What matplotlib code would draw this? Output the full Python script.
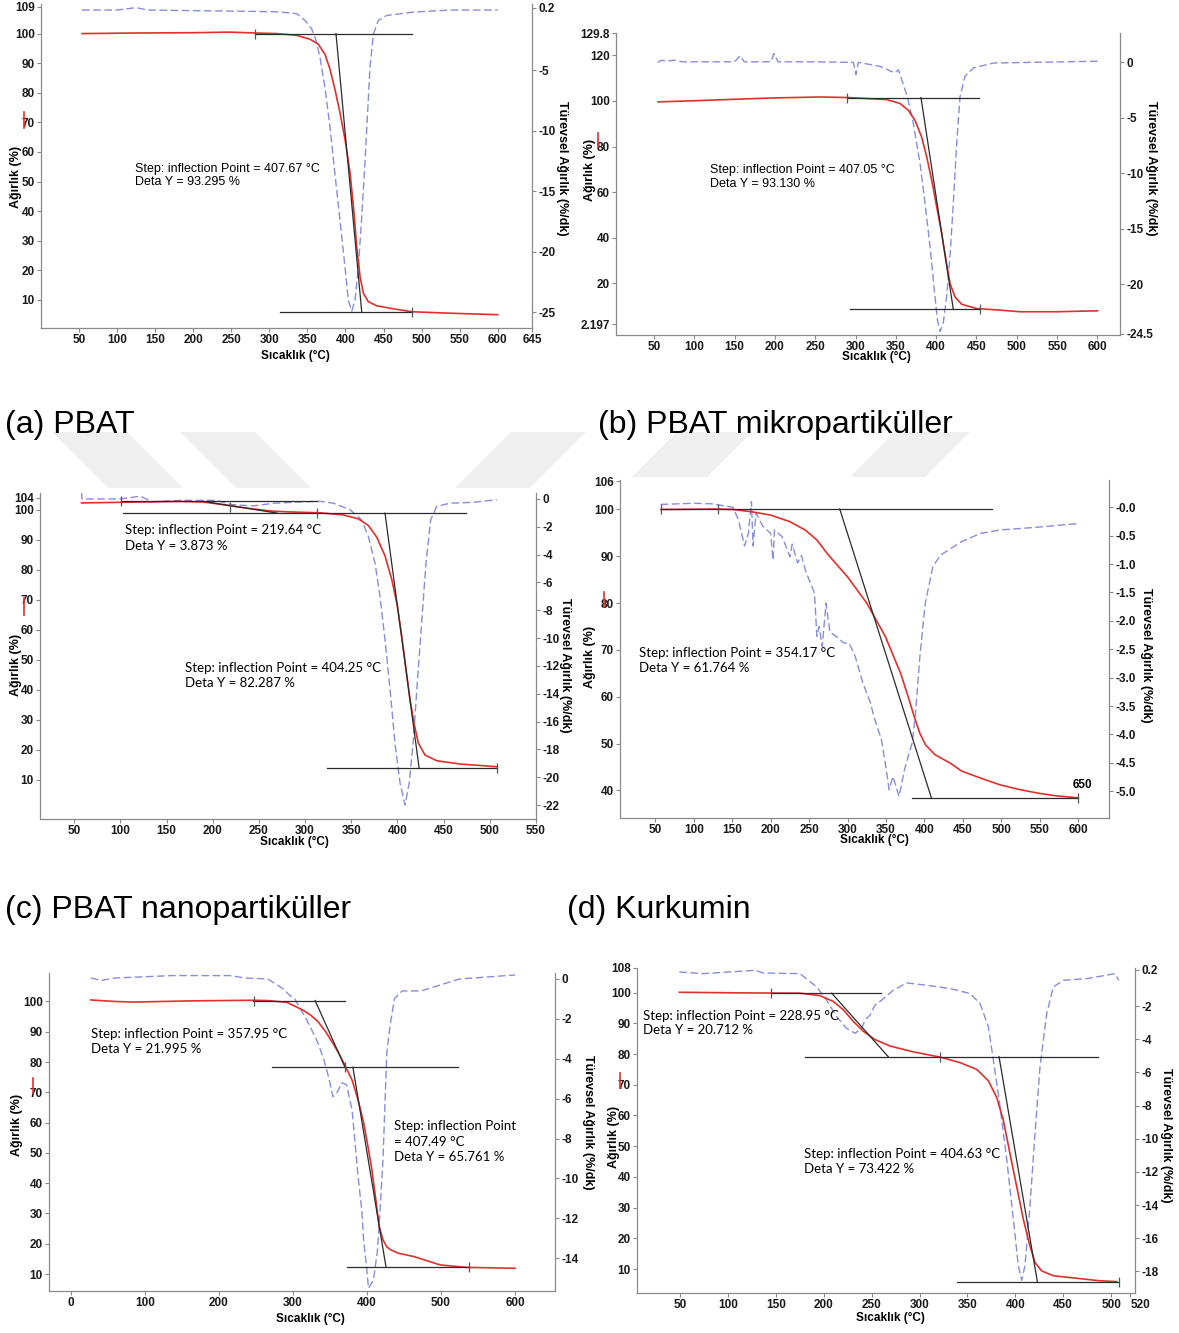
import matplotlib
matplotlib.use('Agg')
import matplotlib.pyplot as plt
from matplotlib.lines import Line2D
from matplotlib.patches import Polygon
from matplotlib.transforms import ScaledTranslation

plt.rcParams['font.family'] = ['Liberation Sans', 'DejaVu Sans']

W, H = 1179, 1333
RED = '#e0302c'
BLUE = '#878ed9'
TAN = '#2b2b2b'
SPINE = '#8a8a8a'
NOTE_FONT = ['Lato', 'DejaVu Sans']

# ---------------- (a) PBAT ----------------
a_temp = [54, 125, 200, 248, 281, 310, 336, 353.4, 364.3, 373.1, 379.7, 386.2, 392.8, 399.4, 406,
          411.2, 414.7, 419.1, 423.4, 430, 441, 467.3, 487, 537.3, 600]
a_weight = [100, 100.2, 100.3, 100.5, 100.2, 100, 99.4, 98.1, 96.4, 93, 87.9, 81.1, 73.2, 64.2,
            52.9, 39.4, 28, 17.9, 12.3, 9.4, 8, 6.8, 6, 5.5, 5]
a_dtg_temp = [54, 100, 125, 140, 200, 265, 312, 336, 346.8, 355.5, 361.3, 366.5, 373, 379.7, 386.2,
              392.8, 399.4, 403.7, 408.2, 412.5, 416.9, 421.3, 425.7, 429.2, 432.2, 436.6, 443.1,
              454.1, 489, 537.3, 600]
a_dtg = [0, 0, 0.2, 0, -0.05, -0.1, -0.15, -0.3, -0.86, -1.55, -2.5, -3.9, -6.4, -9.7, -13.6, -17.4,
         -21.3, -24, -24.9, -24, -21.3, -17.1, -12.5, -8.3, -4.7, -2, -0.86, -0.45, -0.17, 0, 0]
a_tangents = [([281, 488], [100, 100]), ([387.5, 421.3], [100, 6]), ([314, 487], [6, 6])]
a_marks = ([281, 487], [100, 6])
a_xticks = [50, 100, 150, 200, 250, 300, 350, 400, 450, 500, 550, 600, 645]
a_yticks = [10, 20, 30, 40, 50, 60, 70, 80, 90, 100, 109]
a_y2ticks = [-25, -20, -15, -10, -5, 0.2]
a_y2labels = ['-25', '-20', '-15', '-10', '-5', '0.2']
a_note = 'Step: inflection Point = 407.67 °C\nDeta Y = 93.295 %'

# ---------------- (b) PBAT mikropartiküller ----------------
b_temp = [55, 100, 147, 195, 256, 291, 338.7, 355.2, 365.5, 373.8, 382, 388.3, 394.5, 400.7, 406.9,
          412.2, 417.2, 423.4, 431.6, 450.2, 479.2, 504, 550, 600]
b_weight = [99.6, 100.1, 100.7, 101.3, 101.75, 101.5, 100.6, 98.9, 95.9, 91.5, 84.2, 75.5, 65.3,
            53.6, 41.9, 30.2, 20, 14.1, 10.9, 9, 8.3, 7.6, 7.6, 8]
b_dtg_temp = [55, 60, 65, 75, 85, 150, 157, 162, 195, 199, 204, 250, 297.3, 300.6, 303.5, 330.4,
              349, 353.1, 357.3, 364.3, 371.7, 380, 386.2, 392.4, 397.7, 401.5, 404.8, 408.9, 413.1,
              417.2, 421.3, 425.5, 429.6, 435.8, 446.1, 470.9, 600]
b_dtg = [0, 0.2, 0.1, 0.2, 0.05, 0.05, 0.6, 0.05, 0.05, 0.8, 0.05, 0.05, 0, -1.1, 0, -0.36, -0.96,
         -0.66, -1.56, -3.1, -5.5, -9.1, -12.7, -16.6, -20.5, -23.2, -24.3, -23.5, -21.1, -17.5,
         -12.7, -7.3, -3.1, -1.26, -0.5, -0.06, 0.1]
b_tangents = [([290, 453], [101.5, 101.5]), ([381.2, 421.3], [101.5, 8.6]),
              ([293, 454.4], [8.6, 8.6])]
b_marks = ([290, 454.4], [101.5, 8.6])
b_xticks = [50, 100, 150, 200, 250, 300, 350, 400, 450, 500, 550, 600]
b_yticks = [2.197, 20, 40, 60, 80, 100, 120, 129.8]
b_ylabels = ['2.197', '20', '40', '60', '80', '100', '120', '129.8']
b_y2ticks = [-24.5, -20, -15, -10, -5, 0]
b_y2labels = ['-24.5', '-20', '-15', '-10', '-5', '0']
b_note = 'Step: inflection Point = 407.05 °C\nDeta Y = 93.130 %'

# ---------------- (c) PBAT nanopartiküller ----------------
c_temp = [58, 99, 165, 190, 204.5, 225, 243.7, 263, 282.8, 294.5, 316.2, 341.4, 357.6, 368.5, 377.6,
          386.5, 393.8, 399.9, 404.6, 409.3, 413.6, 417.9, 422.6, 429.8, 442.5, 467.7, 507.5]
c_weight = [102.2, 102.4, 102.7, 102.5, 101.9, 101, 100.2, 99.5, 99.2, 99.1, 98.9, 98.2, 96.9, 94.7,
            90.8, 84.6, 76.8, 67.9, 57.9, 46.8, 36.7, 28.9, 22.3, 18.3, 16.4, 15.3, 14.4]
c_dtg_temp = [58, 58.5, 99, 122, 134, 165, 204, 220, 243.7, 267, 300, 316.2, 330.6, 348.6, 361.3,
              368.5, 375.7, 381.1, 386.5, 392, 397.4, 402.8, 408.2, 412.8, 417.2, 421.5, 426.2,
              430.9, 436, 442.5, 456.9, 482.2, 507.5]
c_dtg = [0.5, 0, 0, 0.2, -0.2, -0.1, -0.1, -0.4, -0.5, -0.3, -0.2, -0.17, -0.3, -0.77, -1.5, -2.7,
         -4.6, -7, -10.1, -13.7, -17.6, -20.4, -22, -20.4, -17.3, -13.2, -8.9, -4.6, -1.5, -0.53,
         -0.3, -0.24, -0.05]
c_tangents = [([101, 313], [102.7, 102.7]), ([190, 270], [102.7, 98.8]),
              ([103, 474.5], [98.8, 98.8]), ([386.5, 423.4], [98.8, 14.1]),
              ([324, 507.5], [14.1, 14.1])]
c_marks = ([101, 219, 313, 507.5], [102.7, 100.7, 98.8, 14.1])
c_xticks = [50, 100, 150, 200, 250, 300, 350, 400, 450, 500, 550]
c_yticks = [10, 20, 30, 40, 50, 60, 70, 80, 90, 100, 104]
c_y2ticks = [0, -2, -4, -6, -8, -10, -12, -14, -16, -18, -20, -22]
c_note1 = 'Step: inflection Point = 219.64 °C\nDeta Y = 3.873 %'
c_note2 = 'Step: inflection Point = 404.25 °C\nDeta Y = 82.287 %'

# ---------------- (d) Kurkumin ----------------
d_temp = [57, 131, 151, 176, 200, 225, 245, 260, 275, 300, 325, 349, 369, 379, 386.6, 394, 401.5,
          413.9, 433.7, 448.6, 473.4, 498, 523, 548, 572.7, 600]
d_weight = [100, 100.1, 100, 99.5, 98.8, 97.4, 95.6, 93.5, 90.3, 85.6, 80, 72.9, 65, 59.9, 55.8,
            52.2, 49.7, 47.6, 45.8, 44.1, 42.6, 41.2, 40.2, 39.4, 38.8, 38.4]
d_dtg_temp = [57, 100, 125, 141, 151, 158, 166, 171, 175, 177, 181, 190, 200, 203, 205, 215, 225,
              228, 235, 240, 245, 250, 257, 260, 263, 267, 272, 277, 285, 295, 302, 310, 320, 330,
              334, 344, 349, 354, 359, 367, 374, 379, 384, 388, 394, 401, 411, 421, 449, 473, 498,
              548, 597, 600]
d_dtg = [0.05, 0.07, 0.06, 0.02, 0, -0.22, -0.68, -0.46, 0.1, -0.68, -0.1, -0.34, -0.46, -0.93,
         -0.4, -0.52, -0.87, -0.65, -0.98, -0.85, -1.1, -1.28, -1.51, -2.27, -2.1, -2.45, -1.69,
         -2.2, -2.27, -2.39, -2.39, -2.63, -3.1, -3.45, -3.68, -4.09, -4.5, -4.97, -4.74, -5.09,
         -4.62, -4.38, -4.15, -3.68, -2.63, -1.69, -1.04, -0.84, -0.6, -0.46, -0.4, -0.35, -0.29,
         -0.31]
d_tangents = [([57, 488], [100.1, 100.1]), ([289.8, 409], [100.1, 38.4]), ([384, 600], [38.4, 38.4])]
d_marks = ([57, 131, 600], [100.1, 100.1, 38.4])
d_xticks = [50, 100, 150, 200, 250, 300, 350, 400, 450, 500, 550, 600]
d_yticks = [40, 50, 60, 70, 80, 90, 100, 106]
d_y2ticks = [0, -0.5, -1, -1.5, -2, -2.5, -3, -3.5, -4, -4.5, -5]
d_y2labels = ['-0.0', '-0.5', '-1.0', '-1.5', '-2.0', '-2.5', '-3.0', '-3.5', '-4.0', '-4.5', '-5.0']
d_note = 'Step: inflection Point = 354.17 °C\nDeta Y = 61.764 %'
d_end_label = '650'

# ---------------- (e) ----------------
e_temp = [27, 59.5, 85, 163, 245.7, 266, 292, 313, 323.3, 333.7, 344, 354, 362, 370, 380, 388, 395.7,
          401, 406, 411.4, 416.5, 421.6, 426.8, 432, 442, 463, 499, 535, 600]
e_weight = [100.5, 100, 99.8, 100.2, 100.4, 100.3, 99.7, 97.2, 95.6, 93.4, 90.1, 86.2, 82.9, 79, 74,
            67.5, 59.8, 52.6, 45.5, 35.6, 25.7, 21.3, 19, 18, 16.9, 15.8, 13, 12.2, 11.9]
e_dtg_temp = [27, 41, 59.5, 137, 214.7, 235, 266, 279, 287, 295, 302.6, 310, 318, 326, 333.7, 341.5,
              346.6, 350, 354, 359.5, 366, 372.5, 380, 388, 393, 395.7, 399.4, 402, 408.7, 413.9,
              416.5, 419, 421.6, 424, 426.8, 431, 437, 442, 447.5, 473, 499, 525, 600]
e_dtg = [0.05, -0.07, 0.05, 0.17, 0.17, 0.05, 0, -0.3, -0.5, -0.8, -1, -1.5, -2, -2.6, -3.2, -4,
         -4.7, -5.2, -5.9, -5.7, -5.2, -5.3, -6.6, -9.9, -11.6, -13.2, -14.4, -15.5, -15.1, -13.7,
         -12.4, -10.7, -9.1, -6.6, -3.7, -2.4, -1, -0.8, -0.6, -0.6, -0.3, 0, 0.2]
e_tangents = [([245.7, 370], [100.3, 100.3]), ([330, 370], [100.3, 78.5]),
              ([271.6, 522.5], [78.3, 78.3]), ([381, 425.8], [78.3, 12.2]),
              ([372.5, 538], [12.2, 12.2])]
e_marks = ([247, 370, 538], [100.3, 78.3, 12.2])
e_xticks = [0, 100, 200, 300, 400, 500, 600]
e_yticks = [10, 20, 30, 40, 50, 60, 70, 80, 90, 100]
e_y2ticks = [0, -2, -4, -6, -8, -10, -12, -14]
e_note1 = 'Step: inflection Point = 357.95 °C\nDeta Y = 21.995 %'
e_note2 = 'Step: inflection Point\n= 407.49 °C\nDeta Y = 65.761 %'

# ---------------- (f) ----------------
f_temp = [49, 113, 175, 196, 209.9, 220.3, 230.8, 241.2, 253.4, 269.1, 293.4, 321.3, 342.2, 359.6,
          371.8, 380.5, 387.5, 394.4, 401.4, 408.4, 415.3, 420.6, 427.5, 439.7, 464.1, 487.5, 506]
f_weight = [100.1, 99.9, 99.8, 99, 97.1, 94.4, 90.6, 87.4, 84.7, 82.6, 80.7, 79, 77.2, 75, 71.3,
            65.9, 58.4, 47.6, 36.9, 26.1, 17.5, 12.1, 9.4, 7.8, 7, 6.2, 5.9]
f_dtg_temp = [49, 73.6, 128.6, 136.5, 175, 192.5, 202.9, 213.4, 223.8, 232.5, 239.5, 243, 248.2,
              253.4, 260.4, 272.5, 286.5, 307.4, 331.8, 352.7, 363.1, 371.8, 377, 384, 391, 397.9,
              403.1, 406.7, 410.1, 415.3, 420.6, 425.8, 432.8, 439.7, 450.1, 474.6, 488.6, 504, 508]
f_dtg = [0.06, -0.04, 0.16, 0, -0.04, -0.84, -1.64, -2.64, -3.34, -3.64, -3.34, -2.84, -2.54, -1.94,
         -1.64, -1.04, -0.6, -0.74, -0.94, -1.24, -1.84, -3.24, -5.24, -8.04, -11.24, -14.84,
         -17.64, -18.54, -17.64, -14.04, -9.64, -5.64, -2.44, -0.84, -0.44, -0.34, -0.2, -0.04,
         -0.44]
f_tangents = [([145, 260], [99.8, 99.8]), ([208.2, 267.3], [99.8, 79.1]),
              ([180.5, 486], [79.1, 79.1]), ([383, 423], [79.1, 5.9]), ([338.8, 508], [5.9, 5.9])]
f_marks = ([145, 321.3, 508], [99.8, 79.1, 5.9])
f_xticks = [50, 100, 150, 200, 250, 300, 350, 400, 450, 500, 520]
f_yticks = [10, 20, 30, 40, 50, 60, 70, 80, 90, 100, 108]
f_y2ticks = [0.2, -2, -4, -6, -8, -10, -12, -14, -16, -18]
f_y2labels = ['0.2', '-2', '-4', '-6', '-8', '-10', '-12', '-14', '-16', '-18']
f_note1 = 'Step: inflection Point = 228.95 °C\nDeta Y = 20.712 %'
f_note2 = 'Step: inflection Point = 404.63 °C\nDeta Y = 73.422 %'

captions = ['(a) PBAT', '(b) PBAT mikropartiküller', '(c) PBAT nanopartiküller', '(d) Kurkumin']

fig = plt.figure(figsize=(W / 100, H / 100), dpi=100)


def fx(x, y):
    # figure pixel (from top-left) -> figure fraction
    return x / W, 1 - y / H


def fig_text(x, y, s, **kw):
    fx_, fy_ = fx(x, y)
    return fig.text(fx_, fy_, s, **kw)


def labels_of(ticks):
    return [str(t) for t in ticks]


def panel(box, xlim, ylim, y2lim, xticks, yticks, ylabels, y2ticks, y2labels):
    x0, y0, x1, y1 = box
    ax = fig.add_axes([x0 / W, 1 - y1 / H, (x1 - x0) / W, (y1 - y0) / H])
    ax2 = ax.twinx()
    ax.set_zorder(ax2.get_zorder() + 1)
    ax.patch.set_visible(False)
    ax2.patch.set_visible(True)
    ax2.patch.set_facecolor('white')
    ax.set_xlim(xlim)
    ax.set_ylim(ylim)
    ax2.set_ylim(y2lim)
    for a in (ax, ax2):
        a.spines['top'].set_visible(False)
        for s in a.spines.values():
            s.set_color(SPINE)
            s.set_linewidth(0.9)
    ax.spines['right'].set_visible(False)
    ax2.spines['left'].set_visible(False)
    ax2.spines['bottom'].set_visible(False)
    tf = dict(fontsize=8.5, fontweight='bold', color='#1a1a1a')
    ax.set_xticks(xticks, labels=labels_of(xticks), **tf)
    ax.set_yticks(yticks, labels=ylabels, **tf)
    ax2.set_yticks(y2ticks, labels=y2labels, **tf)
    for a in (ax, ax2):
        a.tick_params(length=3, width=0.8, color=SPINE, pad=1.5)
    return ax, ax2


def draw(ax, ax2, temp, weight, dtemp, dtg, tangents, marks):
    ax2.plot(dtemp, dtg, color=BLUE, lw=1.0, ls=(0, (5.5, 2.5)))
    ax.plot(temp, weight, color=RED, lw=1.2)
    for tx, ty in tangents:
        ax.plot(tx, ty, color=TAN, lw=0.9)
    ax.plot(marks[0], marks[1], ls='none', marker='|', ms=7, mew=0.9, color='#555555')


# faint watermark bands between the rows
for pts in [[(52, 432), (127, 432), (183, 488), (108, 488)],
            [(180, 432), (255, 432), (311, 488), (236, 488)],
            [(511, 432), (586, 432), (530, 488), (455, 488)],
            [(677, 432), (752, 432), (707, 477), (632, 477)],
            [(895, 432), (970, 432), (925, 477), (850, 477)]]:
    fig.add_artist(Polygon([fx(*p) for p in pts], closed=True, transform=fig.transFigure,
                           facecolor='#efefef', edgecolor='none', zorder=0))

# (a)
ax, ax2 = panel((41, 4, 532, 328), (0, 645), (0.5, 110), (-26.3, 0.5),
                a_xticks, a_yticks, labels_of(a_yticks), a_y2ticks, a_y2labels)
draw(ax, ax2, a_temp, a_weight, a_dtg_temp, a_dtg, a_tangents, a_marks)
fig_text(135, 175.5, a_note, fontsize=9, va='center', linespacing=1.2)

# (b)
ax, ax2 = panel((616, 33, 1120, 335), (3, 628), (-2.6, 129.8), (-24.6, 2.65),
                b_xticks, b_yticks, b_ylabels, b_y2ticks, b_y2labels)
draw(ax, ax2, b_temp, b_weight, b_dtg_temp, b_dtg, b_tangents, b_marks)
fig_text(710, 176.7, b_note, fontsize=9, va='center', linespacing=1.2)

# (c)
ax, ax2 = panel((40, 493, 536, 819), (13, 550), (-3, 105.5), (-23, 0.43),
                c_xticks, c_yticks, labels_of(c_yticks), c_y2ticks, labels_of(c_y2ticks))
draw(ax, ax2, c_temp, c_weight, c_dtg_temp, c_dtg, c_tangents, c_marks)
fig_text(125, 538, c_note1, fontsize=9.5, va='center', linespacing=1.3, family=NOTE_FONT)
fig_text(185, 675.7, c_note2, fontsize=9.5, va='center', linespacing=1.3, family=NOTE_FONT)

# (d)
ax, ax2 = panel((620, 480, 1109, 818), (4, 640), (34.1, 106.3), (-5.47, 0.48),
                d_xticks, d_yticks, labels_of(d_yticks), d_y2ticks, d_y2labels)
draw(ax, ax2, d_temp, d_weight, d_dtg_temp, d_dtg, d_tangents, d_marks)
fig_text(639, 660.8, d_note, fontsize=9.5, va='center', linespacing=1.3, family=NOTE_FONT)
fig_text(1073, 785, d_end_label, fontsize=8.5, fontweight='bold', va='center')

# (e)
ax, ax2 = panel((49, 973, 555, 1291), (-29.5, 654), (4.4, 109.4), (-15.64, 0.3),
                e_xticks, e_yticks, labels_of(e_yticks), e_y2ticks, labels_of(e_y2ticks))
draw(ax, ax2, e_temp, e_weight, e_dtg_temp, e_dtg, e_tangents, e_marks)
fig_text(91, 1041.5, e_note1, fontsize=9.5, va='center', linespacing=1.3, family=NOTE_FONT)
fig_text(394, 1141.8, e_note2, fontsize=9.5, va='center', linespacing=1.35, family=NOTE_FONT)

# (f)
ax, ax2 = panel((637, 968, 1135, 1293), (4.8, 525), (2.2, 108), (-19.3, 0.3),
                f_xticks, f_yticks, labels_of(f_yticks), f_y2ticks, f_y2labels)
draw(ax, ax2, f_temp, f_weight, f_dtg_temp, f_dtg, f_tangents, f_marks)
fig_text(643, 1023, f_note1, fontsize=9.5, va='center', linespacing=1.3, family=NOTE_FONT)
fig_text(804, 1161.7, f_note2, fontsize=9.5, va='center', linespacing=1.3, family=NOTE_FONT)
# the last x label sits just past the axis end in the original
last = ax.xaxis.get_major_ticks()[-1].label1
last.set_transform(last.get_transform() + ScaledTranslation(0.1, 0, fig.dpi_scale_trans))

# axis titles (pixel positions of the original panels)
for x, y in [(295, 356), (876, 357), (294, 842), (874, 840), (310, 1319), (890, 1318)]:
    fig_text(x, y, 'Sıcaklık (°C)', fontsize=8.5, fontweight='bold', ha='center', va='center')
for x, y in [(16, 177), (590, 170), (16, 665), (590, 657), (17, 1125), (614, 1137)]:
    fig_text(x, y, 'Ağırlık (%)', fontsize=9, fontweight='bold', rotation=90,
             ha='center', va='center')
for x, y in [(562, 168), (1151, 168), (565, 665), (1146, 655), (588, 1122), (1166, 1135)]:
    fig_text(x, y, 'Türevsel Ağırlık (%/dk)', fontsize=9, fontweight='bold', rotation=270,
             ha='center', va='center')

# small red series markers beside the left labels
for x, ya, yb in [(24, 112, 128), (598, 133, 147), (23.6, 598, 615), (604, 592, 607),
                  (32.5, 1078, 1093), (620, 1073, 1088)]:
    (xa, fa), (_, fb) = fx(x, ya), fx(x, yb)
    fig.add_artist(Line2D([xa, xa], [fa, fb], color=RED, lw=1.2, transform=fig.transFigure))

for (x, y), cap in zip([(5, 425), (598, 425), (5, 910), (567, 910)], captions):
    fig_text(x, y, cap, fontsize=23, va='center')

fig.savefig('out.png', dpi=100)
